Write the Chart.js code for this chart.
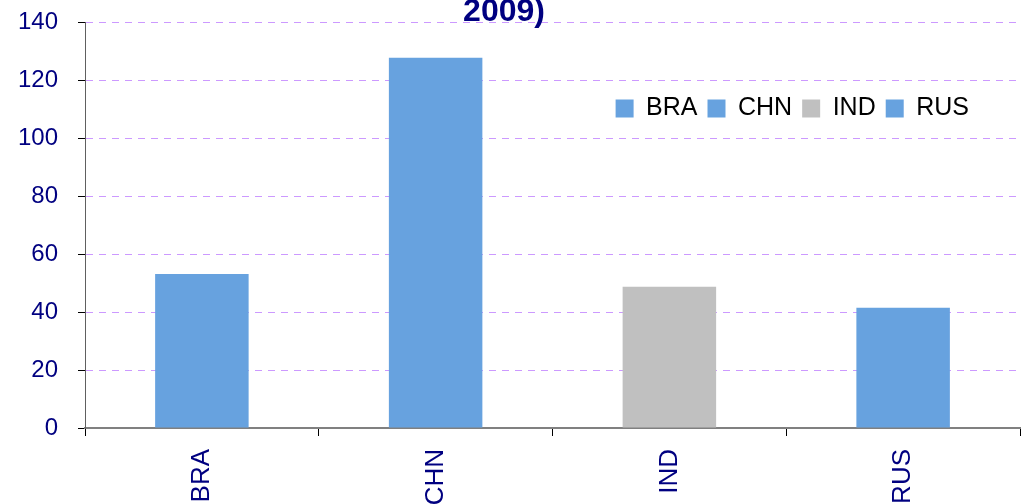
<!DOCTYPE html>
<html>
<head>
<meta charset="utf-8">
<script src="https://cdn.jsdelivr.net/npm/chart.js@4"></script>
<style>
  html, body { margin: 0; padding: 0; background: #fff; overflow: hidden; }
  #wrap { width: 1029px; height: 504px; }
</style>
</head>
<body>
<div id="wrap"><canvas id="mychart" width="1029" height="504"></canvas></div>
<script>
// values
const countries = ['BRA', 'CHN', 'IND', 'RUS'];
const values = [53.1, 127.7, 48.7, 41.5];
const barColors = ['#67a2df', '#67a2df', '#c0c0c0', '#67a2df'];
const yTicks = [0, 20, 40, 60, 80, 100, 120, 140];
const titleLine = '2009)';

const navy = '#000080';
const fontFam = "'Liberation Sans', Arial, sans-serif";

// title sits half off the top edge, so draw it by hand
const titlePlugin = {
  id: 'cutTitle',
  afterDraw(chart) {
    const ctx = chart.ctx;
    ctx.save();
    ctx.font = 'bold 32px ' + fontFam;
    ctx.fillStyle = navy;
    ctx.textAlign = 'center';
    ctx.textBaseline = 'alphabetic';
    ctx.fillText(titleLine, 504, 21);
    ctx.restore();
  }
};

// legend lives inside the plot: take no layout space, then move it down
const legendShift = {
  id: 'legendShift',
  beforeLayout(chart) {
    const lg = chart.legend;
    if (lg && !lg._patched) {
      const origFit = lg.fit.bind(lg);
      lg.fit = function () { origFit(); this.height = 0; };
      lg._patched = true;
    }
  },
  afterLayout(chart) {
    const lg = chart.legend;
    const h = 50;
    lg.top = 86; lg.bottom = lg.top + h;
    lg.height = h;
    lg.left -= 41; lg.right -= 41;
  }
};

const ctx = document.getElementById('mychart').getContext('2d');
const chart = new Chart(ctx, {
  type: 'bar',
  data: {
    labels: countries,
    datasets: [{
      label: 'value',
      data: values,
      backgroundColor: barColors,
      borderWidth: 0,
      barPercentage: 0.4,
      categoryPercentage: 1.0
    }]
  },
  options: {
    responsive: false,
    animation: false,
    layout: { padding: { top: 22, right: 9, left: 0, bottom: 0 } },
    plugins: {
      title: { display: false },
      tooltip: { enabled: false },
      legend: {
        position: 'top',
        align: 'end',
        labels: {
          boxWidth: 18,
          boxHeight: 18,
          padding: 10,
          color: navy,
          font: { family: fontFam, size: 25 },
          generateLabels: () => countries.map((c, i) => ({
            text: c,
            fillStyle: barColors[i],
            strokeStyle: barColors[i],
            lineWidth: 0,
            hidden: false,
            index: i
          }))
        }
      }
    },
    scales: {
      x: {
        offset: true,
        grid: {
          offset: true,
          drawOnChartArea: false,
          tickLength: 8,
          tickColor: '#000',
          tickWidth: 1
        },
        border: { color: '#808080', width: 2 },
        ticks: {
          color: navy,
          font: { family: fontFam, size: 26 },
          minRotation: 90,
          maxRotation: 90,
          padding: 13
        },
        afterFit(scale) { scale.height = 76; }
      },
      y: {
        min: 0,
        max: 140,
        afterBuildTicks(scale) { scale.ticks = yTicks.map(v => ({ value: v })); },
        grid: {
          color: '#cc99ff',
          lineWidth: 1,
          tickColor: '#000',
          tickLength: 7
        },
        border: { color: '#606060', width: 1, dash: [7, 6] },
        ticks: {
          color: navy,
          // tiny lineHeight so the top label does not push the plot down
          font: { family: fontFam, size: 24, lineHeight: 0.1 },
          padding: 20
        },
        afterFit(scale) { scale.width = 85; }
      }
    }
  },
  plugins: [titlePlugin, legendShift]
});
</script>
</body>
</html>
